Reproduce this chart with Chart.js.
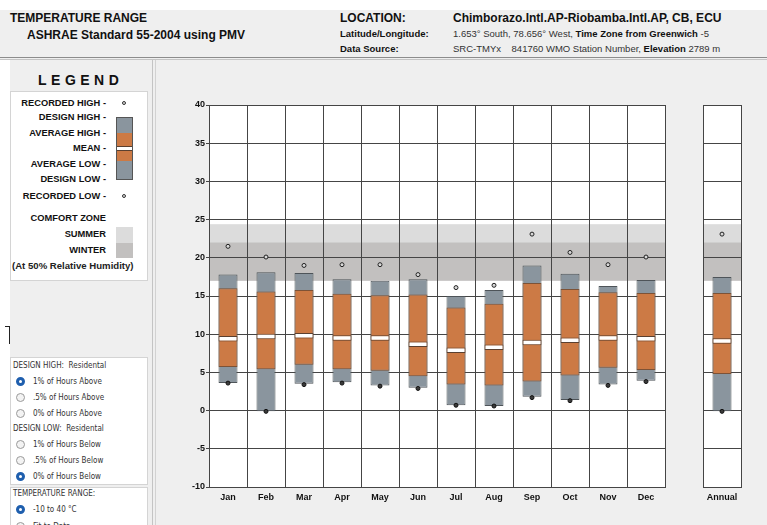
<!DOCTYPE html>
<html>
<head>
<meta charset="utf-8">
<script src="https://cdn.jsdelivr.net/npm/chart.js@4.4.1/dist/chart.umd.min.js"></script>
<style>
body{margin:0;width:767px;height:525px;overflow:hidden;background:#efefef;position:relative;font-family:"Liberation Sans",Arial,sans-serif;color:#111}
.t{position:absolute;white-space:nowrap}
.b{font-weight:bold}
.box{position:absolute;background:#fff;border:1px solid #d4d4d4;box-sizing:border-box}
.lg{position:absolute;right:661px;font-size:9.3px;font-weight:bold;line-height:10px;white-space:nowrap}
.opt{position:absolute;left:13px;font-size:8px;line-height:10px;color:#333;white-space:nowrap;font-family:"DejaVu Sans",sans-serif;transform:scaleX(.9);transform-origin:left}
.rad{position:absolute;left:16px;width:9px;height:9px;border-radius:50%;box-sizing:border-box;border:1px solid #9a9a9a;background:#f3f3f3}
.rad.on{border:3px solid #1f5fae;background:#fff}
.rl{position:absolute;left:33px;font-size:8px;line-height:10px;color:#333;white-space:nowrap;font-family:"DejaVu Sans",sans-serif;transform:scaleX(.9);transform-origin:left}
canvas{position:absolute}
</style>
</head>
<body>
<div style="position:absolute;left:0;top:0;width:767px;height:10px;background:#fff"></div>
<div style="position:absolute;left:0;top:57px;width:767px;height:1px;background:#8c8c8c"></div>
<div style="position:absolute;left:0;top:59px;width:767px;height:1px;background:#c4c4c4"></div>
<div style="position:absolute;left:0;top:60px;width:10px;height:465px;background:#fff"></div>
<div style="position:absolute;left:152px;top:60px;width:1px;height:465px;background:#c4c4c4"></div>
<div style="position:absolute;left:155px;top:60px;width:1px;height:465px;background:#d2d2d2"></div>

<div class="t b" style="left:10px;top:11px;font-size:12px">TEMPERATURE RANGE</div>
<div class="t b" style="left:27px;top:28px;font-size:12px">ASHRAE Standard 55-2004 using PMV</div>
<div class="t b" style="left:340px;top:11px;font-size:12px">LOCATION:</div>
<div class="t b" style="left:453px;top:11px;font-size:12px">Chimborazo.Intl.AP-Riobamba.Intl.AP, CB, ECU</div>
<div class="t b" style="left:340px;top:28px;font-size:9.5px">Latitude/Longitude:</div>
<div class="t" style="left:453px;top:28px;font-size:9.5px;color:#333">1.653° South, 78.656° West, <b style="color:#111">Time Zone from Greenwich</b> -5</div>
<div class="t b" style="left:340px;top:43px;font-size:9.5px">Data Source:</div>
<div class="t" style="left:453px;top:43px;font-size:9.5px;color:#333">SRC-TMYx&nbsp;&nbsp;&nbsp; 841760 WMO Station Number, <b style="color:#111">Elevation</b> 2789 m</div>

<div class="t b" style="left:38px;top:72px;font-size:14px;letter-spacing:4.5px">LEGEND</div>
<div class="box" style="left:10px;top:91px;width:138px;height:190px"></div>
<div class="lg" style="top:98px">RECORDED HIGH -</div>
<div class="lg" style="top:112px">DESIGN HIGH -</div>
<div class="lg" style="top:128px">AVERAGE HIGH -</div>
<div class="lg" style="top:143px">MEAN -</div>
<div class="lg" style="top:159px">AVERAGE LOW -</div>
<div class="lg" style="top:174px">DESIGN LOW -</div>
<div class="lg" style="top:191px">RECORDED LOW -</div>
<div class="lg" style="top:213px">COMFORT ZONE</div>
<div class="lg" style="top:229px">SUMMER</div>
<div class="lg" style="top:245px">WINTER</div>
<div class="t b" style="left:12px;top:261px;font-size:9.6px;line-height:10px;color:#222">(At 50% Relative Humidity)</div>
<div style="position:absolute;left:122px;top:101px;width:4px;height:4px;border-radius:50%;border:1px solid #333;background:#ddd;box-sizing:border-box"></div>
<div style="position:absolute;left:122px;top:194px;width:4px;height:4px;border-radius:50%;border:1px solid #333;background:#ddd;box-sizing:border-box"></div>
<div style="position:absolute;left:116px;top:117px;width:17px;height:63px;background:#8a959e;border:1px solid #555;box-sizing:border-box"></div>
<div style="position:absolute;left:117px;top:133px;width:15px;height:28px;background:#cc7a45"></div>
<div style="position:absolute;left:117px;top:146px;width:15px;height:3px;background:#fff;border-top:1px solid #5a4030;border-bottom:1px solid #5a4030"></div>
<div style="position:absolute;left:116px;top:227px;width:17px;height:16px;background:#dcdcdc"></div>
<div style="position:absolute;left:116px;top:243px;width:17px;height:15px;background:#c2c0bf"></div>

<div style="position:absolute;left:5px;top:326px;width:4px;height:17px;border-top:1px solid #222;border-right:1px solid #222"></div>

<div class="box" style="left:10px;top:357px;width:138px;height:128px"></div>
<div class="opt" style="top:361px">DESIGN HIGH:&nbsp; Residental</div>
<div class="rad on" style="top:377px"></div><div class="rl" style="top:377px">1% of Hours Above</div>
<div class="rad" style="top:393px"></div><div class="rl" style="top:393px">.5% of Hours Above</div>
<div class="rad" style="top:409px"></div><div class="rl" style="top:409px">0% of Hours Above</div>
<div class="opt" style="top:424px">DESIGN LOW:&nbsp; Residental</div>
<div class="rad" style="top:440px"></div><div class="rl" style="top:440px">1% of Hours Below</div>
<div class="rad" style="top:456px"></div><div class="rl" style="top:456px">.5% of Hours Below</div>
<div class="rad on" style="top:472px"></div><div class="rl" style="top:472px">0% of Hours Below</div>
<div class="box" style="left:10px;top:487px;width:138px;height:60px"></div>
<div class="opt" style="top:489px">TEMPERATURE RANGE:</div>
<div class="rad on" style="top:505px"></div><div class="rl" style="top:505px">-10 to 40 °C</div>
<div class="rad" style="top:522px"></div><div class="rl" style="top:522px">Fit to Data</div>

<canvas id="main" width="520" height="465" style="left:157px;top:60px"></canvas>
<canvas id="annual" width="77" height="465" style="left:690px;top:60px"></canvas>

<script>
const months = ["Jan", "Feb", "Mar", "Apr", "May", "Jun", "Jul", "Aug", "Sep", "Oct", "Nov", "Dec"]
const recordedHigh = [21.5, 20.1, 19.0, 19.1, 19.1, 17.8, 16.1, 16.4, 23.1, 20.7, 19.1, 20.1]
const designHigh = [17.8, 18.1, 18.0, 17.2, 17.0, 17.2, 15.0, 15.8, 19.0, 17.9, 16.3, 17.1]
const averageHigh = [16.0, 15.6, 15.8, 15.3, 15.1, 15.2, 13.5, 14.0, 16.7, 15.9, 15.5, 15.4]
const meanTemp = [9.4, 9.7, 9.8, 9.5, 9.5, 8.7, 7.9, 8.3, 8.9, 9.2, 9.5, 9.4]
const averageLow = [5.7, 5.4, 6.0, 5.4, 5.2, 4.5, 3.4, 3.3, 3.8, 4.6, 5.6, 5.3]
const designLow = [3.6, -0.1, 3.5, 3.7, 3.3, 3.0, 0.7, 0.6, 1.8, 1.4, 3.4, 3.9]
const recordedLow = [3.6, -0.1, 3.4, 3.6, 3.2, 2.9, 0.7, 0.6, 1.7, 1.3, 3.3, 3.8]

// annual column: recorded high, design high, avg high, mean, avg low, design low, recorded low
const annual = [23.1, 17.5, 15.4, 9.1, 4.8, -0.1, -0.1]

const yTicks = [-10, -5, 0, 5, 10, 15, 20, 25, 30, 35, 40]
const summerZone = [17.0, 24.4]
const winterZone = [17.0, 22.0]

const zonas = {
  id: "zonas",
  beforeDraw(chart) {
    let ctx = chart.ctx
    let a = chart.chartArea
    let y = chart.scales.y
    ctx.save()
    ctx.fillStyle = "#ffffff"
    ctx.fillRect(a.left, a.top, a.right - a.left, a.bottom - a.top)
    ctx.fillStyle = "#dcdcdc"
    let t = y.getPixelForValue(summerZone[1]), b = y.getPixelForValue(summerZone[0])
    ctx.fillRect(a.left, t, a.right - a.left, b - t)
    ctx.fillStyle = "#c2c0bf"
    t = y.getPixelForValue(winterZone[1]); b = y.getPixelForValue(winterZone[0])
    ctx.fillRect(a.left, t, a.right - a.left, b - t)
    ctx.restore()
  }
}

Chart.defaults.font.family = "'Liberation Sans', Arial, sans-serif"
Chart.defaults.font.size = 9
Chart.defaults.font.weight = "bold"
Chart.defaults.color = "#111"
Chart.defaults.animation = false

function crear(id, labels, rh, dh, ah, mn, al, dl, rl, conEje, pad) {
  let ctx = document.getElementById(id).getContext("2d")
  return new Chart(ctx, {
    type: "bar",
    data: {
      labels: labels,
      datasets: [
        {
          type: "line", data: rh, showLine: false, order: 0,
          pointRadius: 2, pointBackgroundColor: "#d8d8d8", pointBorderColor: "#222", pointBorderWidth: 1
        },
        {
          type: "line", data: rl, showLine: false, order: 0,
          pointRadius: 2, pointBackgroundColor: "#3a3a3a", pointBorderColor: "#111", pointBorderWidth: 1
        },
        {
          data: mn.map(v => [v - 0.36, v + 0.36]), grouped: false, order: 1,
          backgroundColor: "#ffffff", borderColor: "#5a4030",
          borderWidth: 1, borderSkipped: false,
          barPercentage: 0.5, categoryPercentage: 1
        },
        {
          data: ah.map((v, i) => [al[i], v]), grouped: false, order: 2,
          backgroundColor: "#cc7a45", borderColor: "#7d5236", borderWidth: 1, borderSkipped: false,
          barPercentage: 0.5, categoryPercentage: 1
        },
        {
          data: dh.map((v, i) => [dl[i], v]), grouped: false, order: 3,
          backgroundColor: "#8a959e", borderColor: "#4e5459", borderWidth: 1, borderSkipped: false,
          barPercentage: 0.5, categoryPercentage: 1
        }
      ]
    },
    options: {
      responsive: false,
      layout: { padding: pad },
      plugins: { legend: { display: false }, tooltip: { enabled: false } },
      scales: {
        x: {
          grid: { color: "#454545", lineWidth: 1, drawTicks: false },
          border: { color: "#454545" },
          ticks: { padding: 5, font: { size: 9, weight: "bold" } },
          afterFit(s) { s.height = 20 }
        },
        y: {
          min: yTicks[0], max: yTicks[yTicks.length - 1],
          afterBuildTicks(s) { s.ticks = yTicks.map(v => ({ value: v })) },
          grid: { color: "#454545", lineWidth: 1, drawTicks: conEje, tickLength: 3 },
          border: { color: "#454545" },
          ticks: { display: conEje, padding: 1, font: { size: 9, weight: "bold" } },
          afterFit(s) { s.width = conEje ? 30 : 0 }
        }
      }
    },
    plugins: [zonas]
  })
}

crear("main", months, recordedHigh, designHigh, averageHigh, meanTemp, averageLow, designLow, recordedLow,
  true, { left: 22, right: 12, top: 45, bottom: 18 })
crear("annual", ["Annual"], [annual[0]], [annual[1]], [annual[2]], [annual[3]], [annual[4]], [annual[5]], [annual[6]],
  false, { left: 13, right: 26, top: 45, bottom: 18 })
</script>
</body>
</html>
